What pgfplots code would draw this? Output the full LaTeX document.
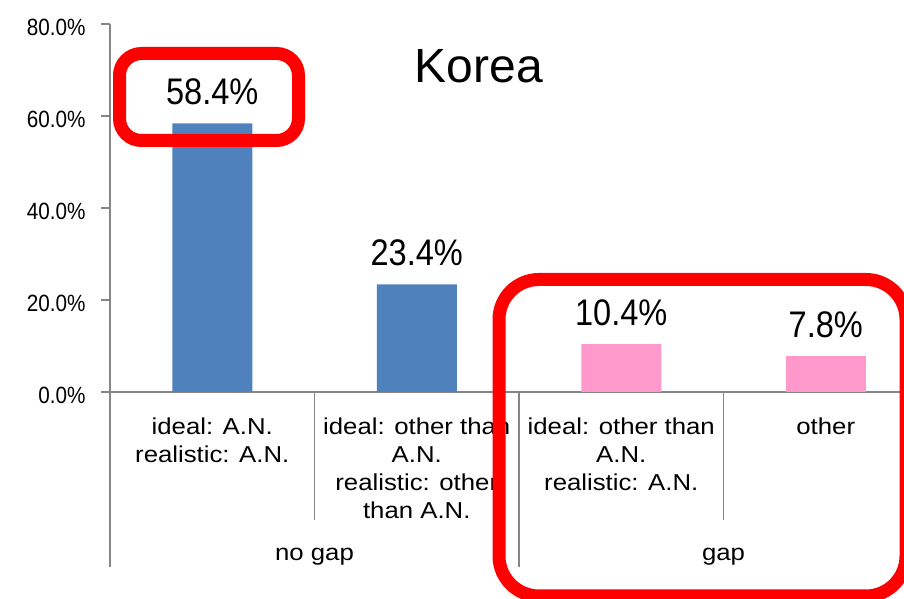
\documentclass[border=0pt]{standalone}
\usepackage{fontspec}
\setmainfont{Liberation Sans}
\newfontfamily\valfont[FakeStretch=0.88]{Liberation Sans}
\newfontfamily\catfont[FakeStretch=1.12]{Liberation Sans}
\usepackage{pgfplots}
\pgfplotsset{compat=1.18}
\definecolor{barblue}{HTML}{4F81BD}
\definecolor{barpink}{HTML}{FF99CC}
\definecolor{axisgray}{HTML}{868686}
\definecolor{boxred}{HTML}{FF0000}

\begin{document}
\begin{tikzpicture}
\useasboundingbox (0,0) rectangle (904pt,599pt);
\clip (0,0) rectangle (904pt,599pt);
\begin{axis}[
    at={(110pt,207pt)}, anchor=south west,
    scale only axis, width=818pt, height=368pt,
    xmin=-0.5, xmax=3.5, ymin=0, ymax=80,
    axis x line*=bottom, axis y line*=left,
    axis line style={axisgray, line width=1.3pt},
    ytick={0,20,40,60,80},
    yticklabel={\pgfmathprintnumber[fixed,fixed zerofill,precision=1]{\tick}\%},
    /pgf/number format/assume math mode=true,
    yticklabel style={font=\valfont\fontsize{23.5}{26}\selectfont, black, xshift=-12pt, yshift=-3pt},
    tick align=outside, major tick length=9pt,
    y tick style={axisgray, line width=1.3pt},
    xtick={0,1,2,3},
    x tick style={draw=none},
    xticklabels={{ideal: A.N.\\realistic: A.N.},
                 {ideal: other than\\A.N.\\realistic: other\\than A.N.},
                 {ideal: other than\\A.N.\\realistic: A.N.},
                 {other}},
    xticklabel style={font=\catfont\fontsize{23}{28}\selectfont, align=center, anchor=north, yshift=-13pt},
    ybar, bar width=80pt, bar shift=0pt,
    nodes near coords={\pgfmathprintnumber[fixed,fixed zerofill,precision=1]{\pgfplotspointmeta}\%},
    nodes near coords style={font=\valfont\fontsize{37}{40}\selectfont, black, inner sep=0pt, yshift=18pt},
    clip=false,
]
\addplot[fill=barblue, draw=none] coordinates {(0,58.4) (1,23.4)};
\addplot[fill=barpink, draw=none] coordinates {(2,10.4) (3,7.8)};

\draw[axisgray, line width=1.3pt] (axis cs:-0.5,0) -- ([yshift=-175pt]axis cs:-0.5,0);
\draw[axisgray, line width=1.3pt] (axis cs:0.5,0) -- ([yshift=-128pt]axis cs:0.5,0);
\draw[axisgray, line width=1.3pt] (axis cs:1.5,0) -- ([yshift=-175pt]axis cs:1.5,0);
\draw[axisgray, line width=1.3pt] (axis cs:2.5,0) -- ([yshift=-128pt]axis cs:2.5,0);
\node[font=\catfont\fontsize{23}{28}\selectfont, anchor=base, yshift=-168pt] at (axis cs:0.5,0) {no gap};
\node[font=\catfont\fontsize{23}{28}\selectfont, anchor=base, yshift=-168pt] at (axis cs:2.5,0) {gap};
\end{axis}
\node[font=\fontsize{48}{50}\selectfont, anchor=base] at (479pt,516pt) {Korea};
\draw[boxred, line width=13pt, rounded corners=22pt] (119.5pt,458.5pt) rectangle (298.5pt,545.5pt);
\draw[boxred, line width=13pt, rounded corners=40pt] (499pt,3pt) rectangle (906pt,319.5pt);
\end{tikzpicture}
\end{document}
